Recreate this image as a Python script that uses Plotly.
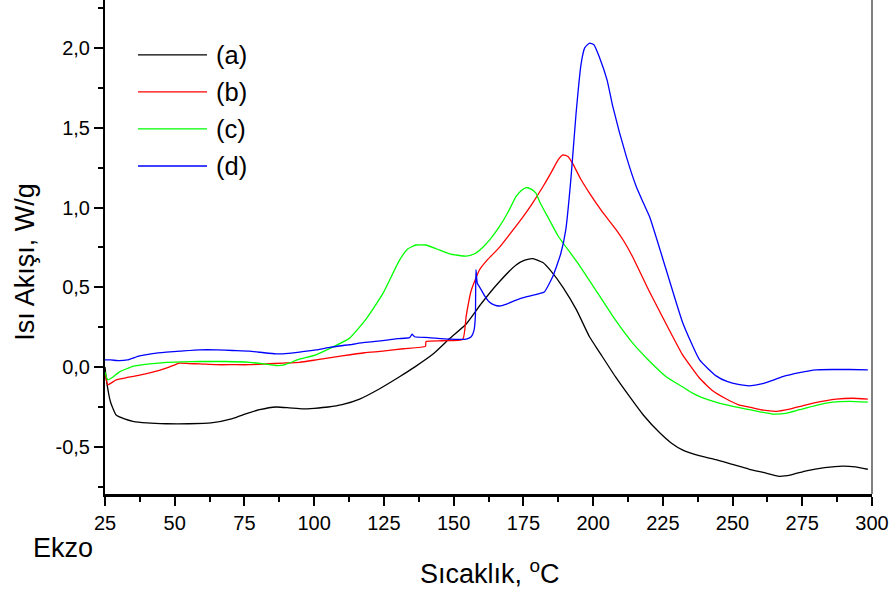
import plotly.graph_objects as go

# ---- data ----
a_x = [25, 25.5, 27, 29, 32, 35, 40, 47, 55, 63, 70.7, 76, 80.4, 86.4, 91, 96, 100, 105, 110, 116.3, 123, 130.6, 136, 142.5, 148, 154.5, 160, 166.4, 172.4, 175.5, 178.4, 182, 185, 189.2, 194, 198.7, 202.6, 208, 213.3, 218, 223.8, 228, 232.2, 238, 244.1, 250, 256, 261, 266.8, 271, 276.4, 283, 289.5, 294, 298.5]
a_y = [0.0, -0.08, -0.22, -0.3, -0.325, -0.34, -0.35, -0.355, -0.355, -0.35, -0.323, -0.29, -0.267, -0.25, -0.255, -0.262, -0.258, -0.25, -0.235, -0.2, -0.14, -0.06, 0.0, 0.08, 0.17, 0.27, 0.4, 0.535, 0.64, 0.67, 0.68, 0.655, 0.6, 0.5, 0.36, 0.19, 0.085, -0.06, -0.19, -0.3, -0.41, -0.475, -0.52, -0.555, -0.58, -0.61, -0.64, -0.66, -0.684, -0.675, -0.65, -0.63, -0.62, -0.625, -0.64]

b_x = [25, 26, 29, 33, 37.4, 44.5, 48, 51.7, 55, 58.9, 65, 70.8, 76.8, 82.8, 88.7, 94.7, 100.7, 110, 118, 124.6, 132, 139.9, 140.1, 146, 153.3, 154.5, 156.3, 159.3, 162, 166.4, 170, 174.8, 178, 182, 185, 187.5, 189.2, 191, 192.7, 195.5, 198.7, 203, 208.3, 211, 214.2, 220, 226.2, 232, 238.2, 243, 247.8, 252, 257.3, 261, 265.7, 270, 276.4, 282, 287.2, 293, 298.5]
b_y = [-0.03, -0.11, -0.08, -0.065, -0.05, -0.02, 0.0, 0.025, 0.022, 0.02, 0.015, 0.015, 0.015, 0.02, 0.025, 0.03, 0.045, 0.07, 0.09, 0.1, 0.115, 0.13, 0.16, 0.165, 0.175, 0.32, 0.48, 0.61, 0.67, 0.75, 0.83, 0.94, 1.02, 1.13, 1.22, 1.3, 1.33, 1.32, 1.275, 1.18, 1.09, 0.98, 0.86, 0.79, 0.69, 0.48, 0.27, 0.08, -0.07, -0.15, -0.2, -0.235, -0.256, -0.27, -0.277, -0.265, -0.236, -0.215, -0.2, -0.195, -0.2]

c_x = [25, 26, 28, 30.2, 35, 41, 47, 53, 58.9, 68, 76.8, 82, 86.3, 88.7, 91, 94.7, 100.7, 106, 112.6, 118.6, 124.6, 130.6, 133.5, 136.5, 140, 144, 148.5, 154.5, 157.5, 160.4, 163.5, 166.4, 169.5, 172.4, 174.5, 176, 177.8, 179.5, 181, 184.4, 187.5, 194.6, 201.8, 207.8, 214.2, 219.8, 226.2, 231.7, 235.8, 238.9, 244, 250.1, 257, 264.4, 269, 274, 280, 285.9, 292, 298.5]
c_y = [-0.03, -0.08, -0.06, -0.03, 0.005, 0.02, 0.03, 0.033, 0.035, 0.035, 0.03, 0.02, 0.01, 0.012, 0.025, 0.05, 0.077, 0.12, 0.18, 0.3, 0.46, 0.67, 0.74, 0.765, 0.765, 0.74, 0.71, 0.695, 0.71, 0.75, 0.81, 0.88, 0.97, 1.07, 1.11, 1.125, 1.115, 1.09, 1.03, 0.92, 0.82, 0.65, 0.46, 0.3, 0.15, 0.045, -0.06, -0.12, -0.165, -0.19, -0.22, -0.246, -0.27, -0.294, -0.29, -0.267, -0.24, -0.22, -0.215, -0.22]

d_x = [25, 27, 30.2, 33, 37.4, 42, 47, 52, 58.9, 65, 70.8, 76.8, 82, 86.3, 88.7, 94.7, 100.7, 106, 112.6, 118, 124.6, 130, 134.2, 135.1, 136, 141, 148.5, 154.5, 156.3, 157.3, 157.8, 158.0, 158.5, 159.7, 161, 162.7, 164.5, 166.4, 169, 172.4, 176, 180.7, 182.5, 185.5, 188.4, 190.2, 192, 193.9, 195.7, 197, 198.7, 200.3, 202.3, 205, 207.1, 211.9, 215.5, 218, 220.3, 226.2, 232.2, 238.2, 244.1, 248, 252.5, 256, 260.8, 264, 268, 274, 279.9, 286, 292, 298.5]
d_y = [0.045, 0.045, 0.04, 0.045, 0.07, 0.085, 0.094, 0.1, 0.108, 0.108, 0.104, 0.1, 0.09, 0.083, 0.083, 0.094, 0.108, 0.125, 0.14, 0.155, 0.166, 0.178, 0.185, 0.206, 0.19, 0.185, 0.175, 0.175, 0.19, 0.23, 0.32, 0.61, 0.525, 0.49, 0.45, 0.41, 0.39, 0.383, 0.395, 0.42, 0.44, 0.46, 0.47, 0.566, 0.71, 0.86, 1.17, 1.59, 1.9, 2.0, 2.03, 2.02, 1.94, 1.8, 1.63, 1.32, 1.13, 1.03, 0.94, 0.61, 0.275, 0.045, -0.055, -0.09, -0.11, -0.117, -0.104, -0.085, -0.06, -0.035, -0.017, -0.015, -0.015, -0.017]

series_names = ["(a)", "(b)", "(c)", "(d)"]
series_colors = ["#000000", "#ff0000", "#00ff00", "#0000ff"]

x_ticks = [25, 50, 75, 100, 125, 150, 175, 200, 225, 250, 275, 300]
y_tickvals = [-0.5, 0.0, 0.5, 1.0, 1.5, 2.0]
y_ticktext = ["-0,5", "0,0", "0,5", "1,0", "1,5", "2,0"]

x_title = "Sıcaklık, <sup>o</sup>C"
y_title = "Isı Akışı, W/g"
corner_text = "Ekzo"

FONT = "Liberation Sans, Arial, sans-serif"

fig = go.Figure()
for xs, ys, nm, col in zip([a_x, b_x, c_x, d_x], [a_y, b_y, c_y, d_y], series_names, series_colors):
    fig.add_trace(go.Scatter(x=xs, y=ys, mode="lines", name=nm,
                             line=dict(color=col, width=1.3, shape="spline", smoothing=0.45),
                             showlegend=False))

# manual legend
leg_y = [0.889, 0.814, 0.739, 0.664]
for nm, col, yy in zip(series_names, series_colors, leg_y):
    fig.add_shape(type="line", xref="paper", yref="paper", x0=0.043, x1=0.133, y0=yy, y1=yy,
                  line=dict(color=col, width=1.3))
    fig.add_annotation(xref="paper", yref="paper", x=0.1415, y=yy, text=nm, showarrow=False,
                       xanchor="left", yanchor="middle", font=dict(size=25.5, color="black", family=FONT))

# right gray frame line
fig.add_shape(type="line", xref="paper", yref="paper", x0=1, x1=1, y0=0, y1=1,
              line=dict(color="#808080", width=2))

fig.add_annotation(xref="paper", yref="paper", x=0.502, y=-0.158, text=x_title, showarrow=False,
                   xanchor="center", yanchor="middle", font=dict(size=27, color="black", family=FONT))
fig.add_annotation(xref="paper", yref="paper", x=-0.1043, y=0.470, text=y_title, showarrow=False,
                   textangle=-90, xanchor="center", yanchor="middle",
                   font=dict(size=27, color="black", family=FONT))
fig.add_annotation(xref="paper", yref="paper", x=-0.0548, y=-0.109, text=corner_text, showarrow=False,
                   xanchor="center", yanchor="middle", font=dict(size=27, color="black", family=FONT))

fig.update_layout(
    width=895, height=596,
    margin=dict(l=105, r=23, t=0, b=102),
    paper_bgcolor="white", plot_bgcolor="white",
    font=dict(family=FONT, size=20, color="black"),
    showlegend=False,
    xaxis=dict(range=[25, 300], tickvals=x_ticks, showgrid=False, zeroline=False,
               showline=True, linecolor="black", linewidth=2.5,
               ticks="outside", ticklen=9, tickwidth=1.5, tickcolor="black",
               tickfont=dict(size=20, family=FONT),
               minor=dict(tickmode="linear", tick0=0, dtick=12.5, ticks="outside", ticklen=5,
                          tickwidth=1.5, tickcolor="black", showgrid=False)),
    yaxis=dict(range=[-0.795, 2.3], tickvals=y_tickvals, ticktext=y_ticktext, showgrid=False,
               zeroline=False, showline=True, linecolor="black", linewidth=2,
               ticks="outside", ticklen=9, tickwidth=1.5, tickcolor="black",
               tickfont=dict(size=20, family=FONT),
               minor=dict(tickmode="linear", tick0=0, dtick=0.25, ticks="outside", ticklen=5,
                          tickwidth=1.5, tickcolor="black", showgrid=False)),
)

fig.write_html("out.html")
